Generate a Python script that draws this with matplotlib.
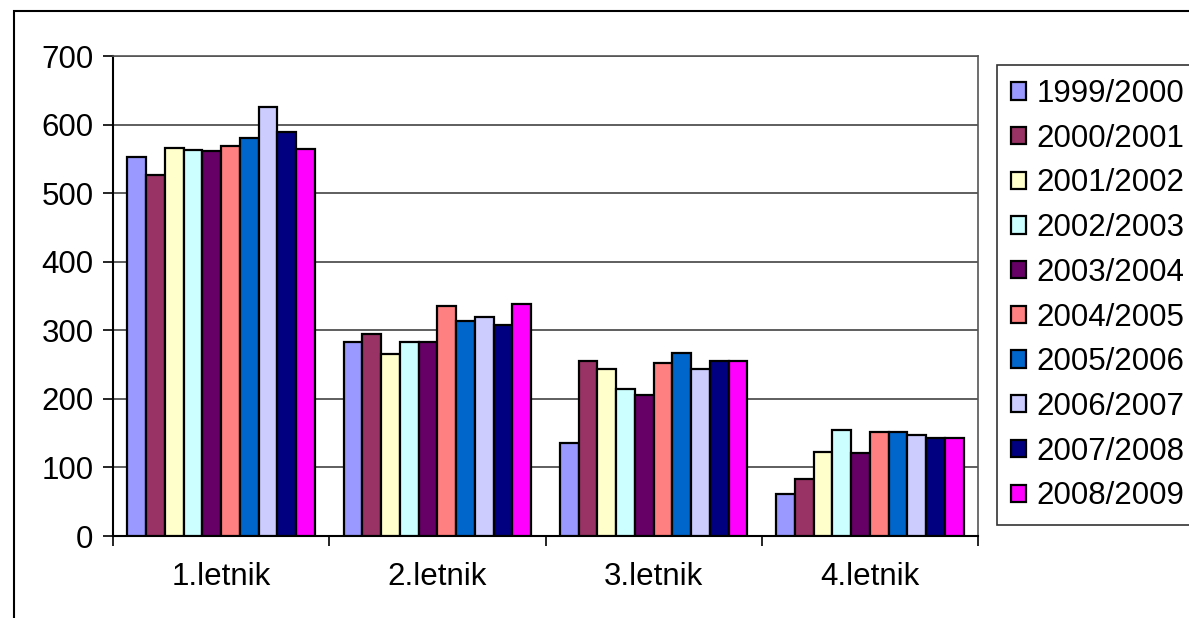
import numpy as np
import matplotlib
matplotlib.use("Agg")
import matplotlib.pyplot as plt
from matplotlib.patches import Rectangle

plt.rcParams['font.family'] = ['Liberation Sans', 'DejaVu Sans']

# data
categories = ["1.letnik", "2.letnik", "3.letnik", "4.letnik"]
years = ["1999/2000", "2000/2001", "2001/2002", "2002/2003", "2003/2004",
         "2004/2005", "2005/2006", "2006/2007", "2007/2008", "2008/2009"]
y1999 = [553, 283, 136, 61]
y2000 = [527, 295, 255, 83]
y2001 = [566, 265, 244, 123]
y2002 = [563, 283, 214, 154]
y2003 = [561, 283, 206, 121]
y2004 = [569, 336, 253, 151]
y2005 = [580, 314, 267, 151]
y2006 = [626, 320, 244, 147]
y2007 = [589, 307, 255, 143]
y2008 = [564, 339, 255, 143]
series = [y1999, y2000, y2001, y2002, y2003, y2004, y2005, y2006, y2007, y2008]
colors = ["#9999FF", "#993366", "#FFFFCC", "#CCFFFF", "#660066",
          "#FF8080", "#0066CC", "#CCCCFF", "#000080", "#FF00FF"]

W, H = 1189, 618
fig = plt.figure(figsize=(W / 100, H / 100), dpi=100)

# outer chart border (partly cut by the image edge)
fig.patches.append(Rectangle((14 / W, -0.1), 1.2, 1.1 - 11 / H, fill=False,
                             edgecolor="black", linewidth=1.5,
                             transform=fig.transFigure))

ax = fig.add_axes([113 / W, 1 - 536 / H, (978 - 113) / W, (536 - 56) / H])

x = np.arange(len(categories))
bw = 0.0866
for i, (vals, c, lab) in enumerate(zip(series, colors, years)):
    off = (i - (len(series) - 1) / 2) * bw
    ax.bar(x + off, vals, width=bw, color=c, edgecolor="black",
           linewidth=1.6, label=lab, zorder=3)

ax.set_xlim(-0.5, 3.5)
ax.set_ylim(0, 700)
ax.set_yticks(range(0, 701, 100))
ax.yaxis.grid(True, color="#333333", linewidth=1.1, zorder=0)
ax.set_axisbelow(True)

ax.set_xticks(x)
ax.set_xticklabels(categories)
ax.set_xticks(np.arange(-0.5, 3.6, 1), minor=True)
ax.tick_params(axis="x", which="major", length=0, pad=19, labelsize=22.5)
ax.tick_params(axis="x", which="minor", length=7, width=1.2, direction="out")
ax.tick_params(axis="y", length=7, width=1.2, direction="out", pad=7, labelsize=22.5)

for s in ["left", "bottom"]:
    ax.spines[s].set_color("black")
    ax.spines[s].set_linewidth(1.5)
for s in ["top", "right"]:
    ax.spines[s].set_color("#555555")
    ax.spines[s].set_linewidth(1.2)

leg = ax.legend(loc="upper left", bbox_to_anchor=(997 / W, 1 - 65 / H),
                bbox_transform=fig.transFigure, borderaxespad=0,
                fontsize=22.5, frameon=True, fancybox=False, edgecolor="black",
                handlelength=0.47, handleheight=0.47, handletextpad=0.34,
                labelspacing=0.47, borderpad=0.45)
leg.get_frame().set_linewidth(1.2)

fig.savefig("out.png", dpi=100)
